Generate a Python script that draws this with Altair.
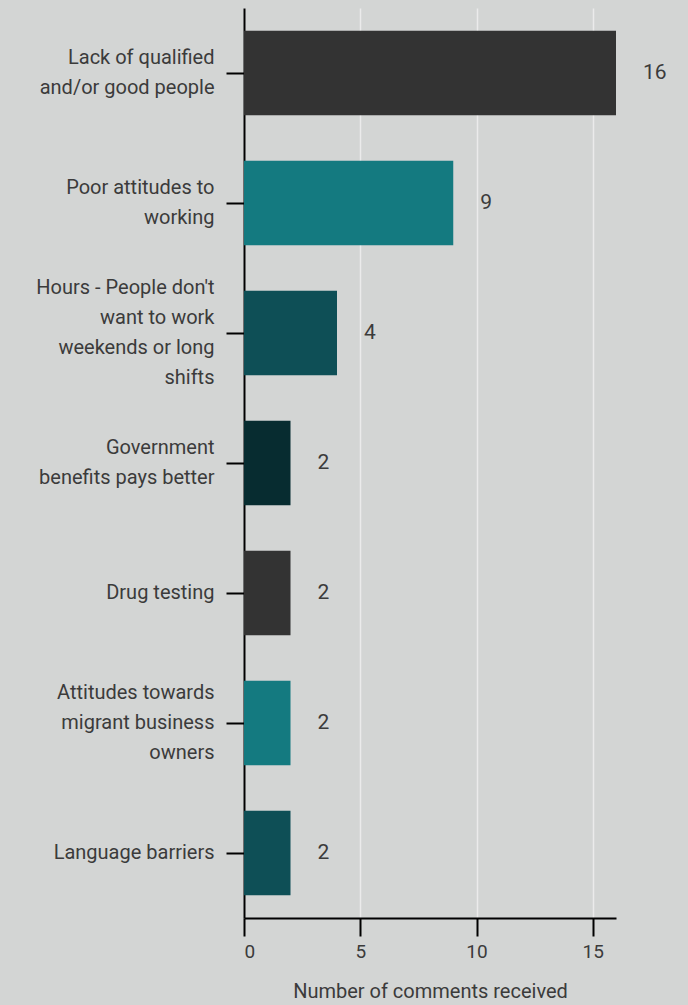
import altair as alt
import pandas as pd

categories = [
    "Lack of qualified|and/or good people",
    "Poor attitudes to|working",
    "Hours - People don't|want to work|weekends or long|shifts",
    "Government|benefits pays better",
    "Drug testing",
    "Attitudes towards|migrant business|owners",
    "Language barriers",
]
values = [16, 9, 4, 2, 2, 2, 2]
bar_colors = ["#333333", "#147a80", "#0e4f56", "#072c30", "#333333", "#147a80", "#0e4f56"]
x_ticks = [0, 5, 10, 15]

df = pd.DataFrame({"category": categories, "value": values})

FONT = "Roboto"
BG = "#d3d5d4"
TXT = "#3b3b3b"
LINE_H = 30

label_offset = {
    "condition": [
        {"test": f"length(split(datum.value, '|')) == {n}", "value": -(n - 1) * LINE_H / 2}
        for n in (2, 3, 4)
    ],
    "value": 0,
}

y_enc = alt.Y(
    "category:N",
    sort=None,
    scale=alt.Scale(paddingInner=0.35, paddingOuter=0.175),
    axis=alt.Axis(
        title=None,
        labelExpr="split(datum.label, '|')",
        labelFontSize=20,
        labelLineHeight=LINE_H,
        labelColor=TXT,
        labelFont=FONT,
        labelPadding=12,
        labelLimit=300,
        labelOffset=label_offset,
        tickSize=18,
        tickColor="#000000",
        tickWidth=2,
        domainColor="#000000",
        domainWidth=2,
        grid=False,
    ),
)

x_enc = alt.X(
    "value:Q",
    scale=alt.Scale(domain=[0, 16], nice=False),
    axis=alt.Axis(
        title="Number of comments received",
        values=x_ticks,
        titleFontSize=20,
        titleFont=FONT,
        titleFontWeight="normal",
        titleColor=TXT,
        titlePadding=20,
        labelFontSize=19,
        labelFont=FONT,
        labelColor=TXT,
        labelPadding=6,
        tickSize=18,
        tickColor="#000000",
        tickWidth=2,
        domainColor="#000000",
        domainWidth=2,
        grid=True,
        gridColor="#ebebeb",
        gridWidth=1.5,
    ),
)

bars = alt.Chart(df).mark_bar().encode(
    y=y_enc,
    x=x_enc,
    color=alt.Color(
        "category:N",
        sort=None,
        scale=alt.Scale(domain=categories, range=bar_colors),
        legend=None,
    ),
)

labels = alt.Chart(df).mark_text(
    align="left", baseline="middle", dx=27, fontSize=21, font=FONT, color=TXT
).encode(
    y=alt.Y("category:N", sort=None),
    x=alt.X("value:Q"),
    text=alt.Text("value:Q"),
)

chart = (
    alt.layer(bars, labels)
    .properties(
        width=372,
        height=910,
        autosize=alt.AutoSizeParams(type="none"),
        padding={"left": 236, "top": 0, "right": 63, "bottom": 87},
        background=BG,
    )
    .configure_view(stroke=None)
)

chart.save(
    "out.html",
    embed_options={
        "renderer": "svg",
        "actions": False,
        "defaultStyle": "html, body { background: #d3d5d4; overflow: hidden; }",
    },
)
